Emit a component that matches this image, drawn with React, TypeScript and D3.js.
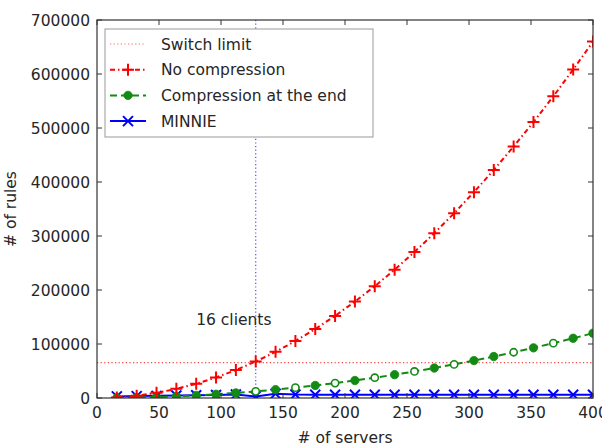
import React from "react";
import * as d3 from "d3";

// Number of servers per measurement (8 servers per client)
const servers = [16, 32, 48, 64, 80, 96, 112, 128, 144, 160, 176, 192, 208, 224, 240, 256, 272, 288, 304, 320, 336, 352, 368, 384, 400];

// Rule counts per strategy
const noCompression = [1050, 4200, 9500, 16900, 26400, 38000, 51700, 67600, 85500, 105600, 127800, 152000, 178500, 207000, 237600, 270300, 305200, 342100, 381200, 422400, 465700, 511100, 558600, 608300, 660000];
const compressionAtEnd = [200, 800, 1700, 3100, 4800, 6900, 9400, 12300, 15500, 19200, 23200, 27600, 32400, 37600, 43200, 49200, 55500, 62200, 69300, 76800, 84700, 92900, 101600, 110600, 120000];
// Markers drawn hollow on the green series
const compressionHollow = [false, false, false, false, false, false, false, true, false, true, false, true, false, true, false, true, false, true, false, false, true, false, true, false, false];
const minnie = [3000, 3500, 4000, 4500, 5000, 5500, 6500, 3000, 8000, 6500, 6000, 6000, 6000, 6000, 6000, 6000, 6000, 6000, 6000, 6000, 6000, 6000, 6000, 6000, 6000];

const switchLimit = 65536;
const markedServers = 128;
const markLabel = "16 clients";
const markLabelPos = { x: 80, y: 135000 };

const xTicks = [0, 50, 100, 150, 200, 250, 300, 350, 400];
const yTicks = [0, 100000, 200000, 300000, 400000, 500000, 600000, 700000];

const legendLabels = ["Switch limit", "No compression", "Compression at the end", "MINNIE"];

const W = 602;
const H = 448;
const M = { left: 97, right: 593, top: 20, bottom: 398 };
const FONT = "DejaVu Sans, sans-serif";
const TEXT = "#262626";

const RED = "#ff0000";
const GREEN = "#138a13";
const BLUE = "#0000ff";

function Plus({ x, y, s = 6, color }: { x: number; y: number; s?: number; color: string }) {
  return (
    <path d={`M${x - s},${y}H${x + s}M${x},${y - s}V${y + s}`} stroke={color} strokeWidth={2} fill="none" />
  );
}

function Cross({ x, y, s = 5, color }: { x: number; y: number; s?: number; color: string }) {
  return (
    <path d={`M${x - s},${y - s}L${x + s},${y + s}M${x - s},${y + s}L${x + s},${y - s}`} stroke={color} strokeWidth={2} fill="none" />
  );
}

export default function App() {
  const x = d3.scaleLinear().domain([0, 400]).range([M.left, M.right]);
  const y = d3.scaleLinear().domain([0, 700000]).range([M.bottom, M.top]);

  const line = (vals: number[]) =>
    d3.line<number>().x((_, i) => x(servers[i])).y((v) => y(v))(vals) || "";

  const legendX = 105;
  const legendY = 29;
  const rowY = (i: number) => legendY + 15 + i * 25.7;

  return (
    <svg width={W} height={H} style={{ position: "absolute", left: 0, top: 0, background: "#fff" }} fontFamily={FONT}>
      <defs>
        <clipPath id="plotArea">
          <rect x={M.left} y={M.top} width={M.right - M.left} height={M.bottom - M.top} />
        </clipPath>
      </defs>

      <g clipPath="url(#plotArea)">
        {/* switch limit */}
        <line x1={M.left} x2={M.right} y1={y(switchLimit)} y2={y(switchLimit)} stroke={RED} strokeOpacity={0.75} strokeWidth={1.2} strokeDasharray="1.2,2.4" />
        {/* 16 clients marker line */}
        <line x1={x(markedServers)} x2={x(markedServers)} y1={M.top} y2={M.bottom} stroke={BLUE} strokeOpacity={0.7} strokeWidth={1.2} strokeDasharray="1.2,2.4" />

        {/* MINNIE */}
        <path d={line(minnie)} stroke={BLUE} strokeWidth={2} fill="none" />
        {minnie.map((v, i) => (
          <Cross key={`m${i}`} x={x(servers[i])} y={y(v)} color={BLUE} />
        ))}

        {/* Compression at the end */}
        <path d={line(compressionAtEnd)} stroke={GREEN} strokeWidth={2} strokeDasharray="7,4" fill="none" />
        {compressionAtEnd.map((v, i) => (
          <circle key={`c${i}`} cx={x(servers[i])} cy={y(v)} r={compressionHollow[i] ? 3.6 : 4.2}
            fill={compressionHollow[i] ? "#fff" : GREEN} stroke={GREEN} strokeWidth={compressionHollow[i] ? 1.6 : 0.8} />
        ))}

        {/* No compression */}
        <path d={line(noCompression)} stroke={RED} strokeWidth={2} strokeDasharray="5,3,1.5,3" fill="none" />
        {noCompression.map((v, i) => (
          <Plus key={`n${i}`} x={x(servers[i])} y={y(v)} color={RED} />
        ))}
      </g>

      <text x={x(markLabelPos.x)} y={y(markLabelPos.y)} fontSize={15.5} fill={TEXT}>{markLabel}</text>

      {/* frame */}
      <rect x={M.left} y={M.top} width={M.right - M.left} height={M.bottom - M.top} fill="none" stroke="#333" strokeWidth={1.2} />

      {/* ticks */}
      {xTicks.map((t) => (
        <g key={`xt${t}`}>
          <line x1={x(t)} x2={x(t)} y1={M.bottom} y2={M.bottom - 5} stroke="#333" />
          <line x1={x(t)} x2={x(t)} y1={M.top} y2={M.top + 5} stroke="#333" />
          <text x={x(t)} y={418} fontSize={15.5} textAnchor="middle" fill={TEXT}>{t}</text>
        </g>
      ))}
      {yTicks.map((t) => (
        <g key={`yt${t}`}>
          <line x1={M.left} x2={M.left + 5} y1={y(t)} y2={y(t)} stroke="#333" />
          <line x1={M.right} x2={M.right - 5} y1={y(t)} y2={y(t)} stroke="#333" />
          <text x={90} y={y(t)} dy="0.36em" fontSize={15.5} textAnchor="end" fill={TEXT}>{t}</text>
        </g>
      ))}

      <text x={(M.left + M.right) / 2} y={443} fontSize={15.5} textAnchor="middle" fill={TEXT}># of servers</text>
      <text transform={`translate(16,${(M.top + M.bottom) / 2}) rotate(-90)`} fontSize={15.5} textAnchor="middle" fill={TEXT}># of rules</text>

      {/* legend */}
      <rect x={legendX} y={legendY} width={268} height={108} fill="#fff" stroke="#999" strokeWidth={1} />
      {legendLabels.map((label, i) => {
        const cy = rowY(i);
        const x0 = 110;
        const x1 = 146;
        const cx = (x0 + x1) / 2;
        return (
          <g key={label}>
            {i === 0 && <line x1={x0} x2={x1} y1={cy} y2={cy} stroke={RED} strokeOpacity={0.6} strokeWidth={1.2} strokeDasharray="1.2,2.4" />}
            {i === 1 && (
              <>
                <line x1={x0} x2={x1} y1={cy} y2={cy} stroke={RED} strokeWidth={2} strokeDasharray="5,3,1.5,3" />
                <Plus x={cx} y={cy} color={RED} />
              </>
            )}
            {i === 2 && (
              <>
                <line x1={x0} x2={x1} y1={cy} y2={cy} stroke={GREEN} strokeWidth={2} strokeDasharray="7,4" />
                <circle cx={cx} cy={cy} r={4.2} fill={GREEN} stroke={GREEN} strokeWidth={0.8} />
              </>
            )}
            {i === 3 && (
              <>
                <line x1={x0} x2={x1} y1={cy} y2={cy} stroke={BLUE} strokeWidth={2} />
                <Cross x={cx} y={cy} color={BLUE} />
              </>
            )}
            <text x={161} y={cy} dy="0.36em" fontSize={15.5} fill={TEXT}>{label}</text>
          </g>
        );
      })}
    </svg>
  );
}
